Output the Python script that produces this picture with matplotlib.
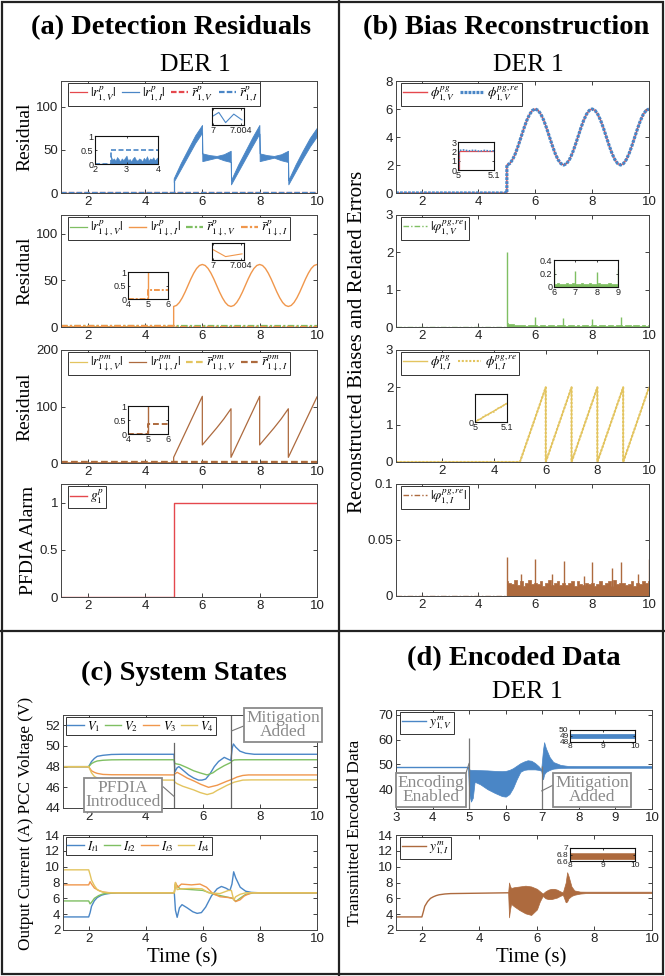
import numpy as np
import matplotlib
matplotlib.use('Agg')
import matplotlib.pyplot as plt
from matplotlib.lines import Line2D
from matplotlib.patches import Rectangle

W, H = 665, 976
plt.rcParams['font.family'] = ['Liberation Sans', 'DejaVu Sans']
plt.rcParams['mathtext.fontset'] = 'stix'

BLUE = '#4a86c6'; RED = '#e5484d'; GREEN = '#7fbf62'; ORANGE = '#f0974c'
YELLOW = '#e3c45f'; BROWN = '#ad6a3e'; GRAY = '#8a8a8a'

# ---------------- data: panel (a) ----------------
a1_band_t = [5.0, 5.25, 5.5, 5.75, 5.99, 6.0, 6.25, 6.5, 6.75, 6.99, 7.0, 7.25, 7.5, 7.75, 7.99,
             8.0, 8.25, 8.5, 8.75, 8.99, 9.0, 9.25, 9.5, 9.75, 10.0]
a1_band_hi = [17, 35, 51, 67, 79, 46, 44, 43, 45, 49, 15, 33, 49, 65, 79, 46, 44, 43, 45, 49, 15, 33, 49, 64, 76]
a1_band_lo = [13, 28, 43, 58, 70, 37, 39, 41, 38, 36, 10, 25, 40, 55, 69, 37, 39, 41, 38, 36, 10, 25, 40, 54, 66]
a1_pre_level = 0.3
a1_thr = 0.5
a1_in_noise_t = [2.5, 2.55, 2.6, 2.65, 2.7, 2.75, 2.8, 2.85, 2.9, 2.95, 3.0, 3.05, 3.1, 3.15, 3.2, 3.25,
                 3.3, 3.35, 3.4, 3.45, 3.5, 3.55, 3.6, 3.65, 3.7, 3.75, 3.8, 3.85, 3.9, 3.95, 4.0]
a1_in_noise = [0.3, 0.15, 0.2, 0.12, 0.25, 0.18, 0.1, 0.2, 0.14, 0.22, 0.3, 0.12, 0.18, 0.1, 0.2, 0.26,
               0.15, 0.12, 0.2, 0.17, 0.1, 0.22, 0.15, 0.28, 0.12, 0.2, 0.16, 0.24, 0.13, 0.2, 0.25]
a1_zoom_t = [7.0, 7.0008, 7.0018, 7.003, 7.0042]
a1_zoom_y = [0.54, 0.74, 0.14, 0.64, 0.3]

a2_t = [5.0, 5.1, 5.2, 5.3, 5.4, 5.5, 5.6, 5.7, 5.8, 5.9, 6.0, 6.1, 6.2, 6.3, 6.4, 6.5, 6.6, 6.7, 6.8, 6.9,
        7.0, 7.1, 7.2, 7.3, 7.4, 7.5, 7.6, 7.7, 7.8, 7.9, 8.0, 8.1, 8.2, 8.3, 8.4, 8.5, 8.6, 8.7, 8.8, 8.9,
        9.0, 9.1, 9.2, 9.3, 9.4, 9.5, 9.6, 9.7, 9.8, 9.9, 10.0]
a2_y = [22.0, 23.1, 26.3, 31.3, 37.5, 44.5, 51.5, 57.7, 62.7, 65.9, 67.0,
        65.9, 62.7, 57.7, 51.5, 44.5, 37.5, 31.3, 26.3, 23.1, 22.0,
        23.1, 26.3, 31.3, 37.5, 44.5, 51.5, 57.7, 62.7, 65.9, 67.0,
        65.9, 62.7, 57.7, 51.5, 44.5, 37.5, 31.3, 26.3, 23.1, 22.0,
        23.1, 26.3, 31.3, 37.5, 44.5, 51.5, 57.7, 62.7, 65.9, 67.0]
a2_zoom_t = [7.0, 7.0018, 7.0042]
a2_zoom_y = [0.6, 0.2, 0.36]
a2_thr_after = 0.35

a3_t = [5.0, 5.0, 6.0, 6.0, 6.25, 6.5, 6.75, 7.0, 7.0, 8.0, 8.0, 8.25, 8.5, 8.75, 9.0, 9.0, 10.0]
a3_y = [0.3, 10, 118, 32, 47, 62, 78, 96, 10, 118, 32, 47, 62, 78, 96, 10, 117]

a4_t = [1.07, 5.0, 5.0, 10.0]
a4_y = [0, 0, 1, 1]

# ---------------- data: panel (b) ----------------
b1_t = a2_t
b1_y = [2.00, 2.10, 2.38, 2.82, 3.38, 4.00, 4.62, 5.18, 5.62, 5.90, 6.00,
        5.90, 5.62, 5.18, 4.62, 4.00, 3.38, 2.82, 2.38, 2.10, 2.00,
        2.10, 2.38, 2.82, 3.38, 4.00, 4.62, 5.18, 5.62, 5.90, 6.00,
        5.90, 5.62, 5.18, 4.62, 4.00, 3.38, 2.82, 2.38, 2.10, 2.00,
        2.10, 2.38, 2.82, 3.38, 4.00, 4.62, 5.18, 5.62, 5.90, 6.00]
b1_in_t = [5.0, 5.002, 5.002, 5.1]
b1_in_y = [0, 0, 2.0, 2.0]
b1_in_re_t = [5.0, 5.002, 5.003, 5.015, 5.03, 5.045, 5.06, 5.075, 5.09, 5.1]
b1_in_re_y = [0, 0, 2.1, 2.15, 2.05, 2.12, 2.0, 2.1, 2.02, 2.06]

b2_noise_t = a2_t
b2_noise = [0.12, 0.08, 0.07, 0.06, 0.05, 0.06, 0.05, 0.04, 0.06, 0.05, 0.05,
            0.04, 0.06, 0.05, 0.04, 0.05, 0.06, 0.04, 0.05, 0.06, 0.05,
            0.04, 0.05, 0.06, 0.04, 0.05, 0.04, 0.06, 0.05, 0.04, 0.05,
            0.06, 0.04, 0.05, 0.05, 0.04, 0.06, 0.05, 0.04, 0.05, 0.05,
            0.04, 0.06, 0.05, 0.04, 0.05, 0.06, 0.04, 0.05, 0.04, 0.05]
b2_spike_t = [5.0, 6.0, 6.97, 8.0, 9.0]
b2_spike_h = [2.0, 0.27, 0.23, 0.22, 0.26]

b3_t = [0.2, 5.0, 6.0, 6.0, 7.0, 7.0, 8.0, 8.0, 9.0, 9.0, 10.0]
b3_y = [0, 0, 2, 0, 2, 0, 2, 0, 2, 0, 2]
b3_in_t = [5.0, 5.01, 5.02, 5.03, 5.04, 5.05, 5.06, 5.07, 5.08, 5.09, 5.1]
b3_in_y = [0.0, 0.02, 0.04, 0.06, 0.08, 0.10, 0.12, 0.14, 0.16, 0.18, 0.20]
b3_in_re = [0.0, 0.025, 0.035, 0.07, 0.075, 0.1, 0.11, 0.145, 0.155, 0.18, 0.2]

b4_noise_t = a2_t
b4_noise = [0.013, 0.012, 0.011, 0.014, 0.010, 0.013, 0.009, 0.012, 0.014, 0.011, 0.012,
            0.011, 0.013, 0.009, 0.012, 0.014, 0.010, 0.012, 0.013, 0.010, 0.012,
            0.010, 0.012, 0.013, 0.009, 0.013, 0.011, 0.010, 0.012, 0.011, 0.012,
            0.009, 0.011, 0.013, 0.010, 0.012, 0.013, 0.009, 0.014, 0.011, 0.012,
            0.012, 0.010, 0.011, 0.013, 0.009, 0.012, 0.011, 0.013, 0.012, 0.013]
b4_spike_t = [5.0, 5.5, 6.0, 6.6, 7.0, 7.7, 8.0, 8.7, 9.0, 9.6, 10.0]
b4_spike_h = [0.035, 0.02, 0.033, 0.02, 0.031, 0.018, 0.030, 0.025, 0.030, 0.02, 0.033]

# ---------------- data: panel (c) ----------------
V1_t = [1.1, 2.0, 2.1, 2.2, 2.3, 2.5, 2.8, 3.2, 4.99, 5.02, 5.1, 5.16, 5.33, 5.5, 5.68, 5.85, 5.97, 6.1,
        6.25, 6.4, 6.55, 6.75, 6.9, 6.98, 7.03, 7.07, 7.15, 7.3, 7.5, 7.8, 10.0]
V1_y = [48.0, 48.0, 48.5, 48.8, 49.0, 49.1, 49.18, 49.2, 49.2, 47.5, 47.9, 48.0, 47.6, 47.2, 46.9, 46.7,
        46.7, 46.8, 47.3, 48.0, 48.5, 48.9, 48.7, 48.6, 49.8, 50.2, 49.9, 49.5, 49.3, 49.2, 49.2]
V2_t = [1.1, 2.0, 2.1, 2.2, 2.3, 2.5, 2.8, 3.2, 4.99, 5.02, 5.2, 5.45, 5.68, 5.9, 6.15, 6.35, 6.5, 6.75,
        6.98, 7.02, 7.1, 7.3, 10.0]
V2_y = [48.0, 48.0, 48.3, 48.45, 48.55, 48.62, 48.66, 48.67, 48.67, 48.3, 48.2, 47.9, 47.6, 47.4, 47.2,
        47.4, 47.7, 48.1, 48.4, 48.55, 48.65, 48.67, 48.67]
V3_t = [1.1, 2.0, 2.1, 2.2, 2.3, 2.5, 2.8, 4.99, 5.02, 5.1, 5.2, 5.45, 5.7, 5.92, 6.2, 6.5, 6.85, 7.0,
        7.2, 7.4, 7.6, 10.0]
V3_y = [48.0, 48.0, 47.6, 47.45, 47.35, 47.25, 47.22, 47.2, 47.3, 47.45, 47.3, 46.9, 46.6, 46.3, 46.0,
        46.2, 46.6, 46.75, 47.0, 47.15, 47.2, 47.2]
V4_t = [1.1, 2.0, 2.1, 2.2, 2.3, 2.5, 2.8, 4.99, 5.02, 5.1, 5.3, 5.68, 5.9, 6.15, 6.35, 6.5, 6.85, 7.1,
        7.4, 7.7, 10.0]
V4_y = [48.0, 48.0, 47.4, 47.05, 46.9, 46.75, 46.72, 46.7, 46.5, 46.35, 46.1, 45.75, 45.5, 45.3, 45.45,
        45.7, 46.2, 46.5, 46.7, 46.72, 46.72]

It1_t = [1.1, 2.0, 2.05, 2.1, 2.2, 2.3, 2.45, 2.6, 2.8, 3.0, 5.0, 5.04, 5.1, 5.18, 5.27, 5.45, 5.65, 5.8,
         5.95, 6.1, 6.3, 6.5, 6.65, 6.8, 6.95, 7.02, 7.08, 7.15, 7.31, 7.5, 7.7, 8.0, 10.0]
It1_y = [3.65, 3.65, 4.2, 5.0, 5.7, 6.1, 6.4, 6.55, 6.65, 6.7, 6.7, 4.5, 3.6, 4.8, 5.2, 4.8, 4.3, 4.1,
         4.2, 4.9, 6.3, 7.2, 7.5, 7.3, 7.0, 7.8, 9.35, 8.6, 7.4, 6.9, 6.75, 6.7, 6.7]
It2_t = [1.1, 2.0, 2.05, 2.1, 2.2, 2.35, 2.5, 2.7, 3.0, 5.0, 5.04, 5.2, 5.6, 6.0, 6.4, 6.8, 7.05, 7.15,
         7.3, 7.5, 7.8, 10.0]
It2_y = [5.67, 5.67, 5.3, 5.5, 6.0, 6.35, 6.55, 6.65, 6.7, 6.7, 7.8, 7.2, 7.1, 7.0, 6.5, 6.2, 6.0, 5.6,
         6.0, 6.5, 6.7, 6.7]
It3_t = [1.1, 2.0, 2.05, 2.1, 2.2, 2.35, 2.5, 2.7, 3.0, 5.0, 5.04, 5.12, 5.25, 5.6, 5.9, 6.13, 6.35, 6.6,
         6.9, 7.05, 7.15, 7.3, 7.45, 7.7, 10.0]
It3_y = [7.7, 7.7, 8.1, 7.8, 7.3, 7.0, 6.8, 6.72, 6.7, 6.7, 8.0, 7.4, 7.8, 7.7, 7.8, 7.4, 6.6, 6.2, 6.1,
         6.0, 5.6, 5.8, 6.3, 6.7, 6.7]
It4_t = [1.1, 2.0, 2.05, 2.1, 2.2, 2.3, 2.4, 2.55, 2.7, 3.0, 5.0, 5.04, 5.1, 5.25, 5.6, 5.97, 6.2, 6.6,
         6.9, 7.0, 7.08, 7.15, 7.3, 7.5, 10.0]
It4_y = [9.6, 9.6, 9.0, 8.3, 7.6, 7.1, 6.9, 6.75, 6.7, 6.7, 6.7, 8.0, 7.1, 7.2, 7.25, 7.2, 6.7, 6.6, 7.0,
         7.0, 5.8, 6.2, 6.5, 6.7, 6.7]

# ---------------- data: panel (d) ----------------
d1_pre_t = [3.0, 4.97]
d1_pre_y = [49.05, 49.05]
d1_band_t = [4.97, 5.0, 5.05, 5.1, 5.15, 5.3, 5.5, 5.7, 5.9, 6.0, 6.1, 6.2, 6.3, 6.4, 6.5, 6.6, 6.7, 6.8,
             6.9, 6.97, 7.02, 7.05, 7.1, 7.2, 7.3, 7.5, 7.7, 8.0, 10.0]
d1_band_hi = [49.2, 48.0, 47.8, 47.8, 47.8, 47.7, 47.6, 47.4, 47.3, 47.4, 47.8, 48.5, 49.5, 50.5, 51.2,
              51.7, 51.5, 50.6, 49.3, 48.0, 56.0, 59.0, 56.5, 53.0, 51.0, 49.8, 49.4, 49.35, 49.35]
d1_band_lo = [48.8, 38.0, 35.0, 36.5, 43.0, 42.0, 40.0, 38.5, 37.2, 37.0, 38.0, 40.5, 44.0, 47.0, 47.8,
              48.0, 48.0, 48.0, 47.8, 47.5, 44.0, 46.0, 47.0, 47.8, 48.3, 48.6, 48.65, 48.65, 48.65]
d1_mark_t = [5.0, 6.98]
d1_mark_top = [60.6, 49.5]

d2_pre_t = [1.1, 2.0, 2.05, 2.1, 2.2, 2.3, 2.4, 2.5, 2.6, 2.8, 3.0, 5.0]
d2_pre_y = [3.65, 3.65, 4.3, 5.0, 5.6, 6.0, 6.2, 6.35, 6.45, 6.55, 6.6, 6.7]
d2_band_t = [5.0, 5.03, 5.06, 5.1, 5.2, 5.4, 5.6, 5.8, 6.0, 6.1, 6.2, 6.3, 6.4, 6.5, 6.6, 6.7, 6.8, 6.9,
             7.0, 7.05, 7.1, 7.2, 7.3, 7.5, 7.7, 10.0]
d2_band_hi = [6.8, 8.0, 7.6, 7.3, 7.4, 7.5, 7.6, 7.5, 7.2, 6.9, 6.6, 6.9, 7.1, 7.2, 7.2, 7.1, 6.9, 6.75,
              8.0, 9.3, 8.8, 7.5, 7.0, 6.85, 6.84, 6.84]
d2_band_lo = [6.6, 3.6, 4.5, 5.3, 5.0, 4.5, 4.1, 3.9, 4.6, 5.6, 6.3, 6.0, 5.9, 5.9, 6.0, 6.1, 6.3, 6.45,
              5.5, 5.6, 6.0, 6.3, 6.45, 6.6, 6.66, 6.66]

# ---------------- helpers ----------------
fig = plt.figure(figsize=(W / 100, H / 100), dpi=100)
SERIF = ['Liberation Serif', 'DejaVu Serif']
TFS = 9.5   # tick label size
IFS = 6.5   # inset tick label size
LFS = 9.5   # legend font size
TITLE = 20.5


def prect(x0, y0, x1, y1):
    return [x0 / W, 1 - y1 / H, (x1 - x0) / W, (y1 - y0) / H]


def ftxt(x, y, s, **kw):
    return fig.text(x / W, 1 - y / H, s, **kw)


def mkax(r, xlim, ylim, xticks, xtl, yticks, ytl, fs=TFS, inset=False):
    ax = fig.add_axes(prect(*r))
    ax.set_xlim(*xlim)
    ax.set_ylim(*ylim)
    ax.set_xticks(xticks)
    ax.set_xticklabels(xtl)
    ax.set_yticks(yticks)
    ax.set_yticklabels(ytl)
    ax.tick_params(direction='in', length=1.5 if inset else 3, width=0.6, top=True, right=True,
                   labelsize=fs, pad=1 if inset else 2, colors='#222')
    for s in ax.spines.values():
        s.set_linewidth(0.8 if inset else 0.7)
        s.set_color('#111' if inset else '#444')
    ax.set_zorder(5 if inset else 1)
    return ax


def leg(ax, x, y, ncol=4, fs=LFS, hl=1.3, cs=0.4):
    L = ax.legend(loc='upper left', bbox_to_anchor=(x, y), ncol=ncol, fontsize=fs, frameon=True,
                  fancybox=False, framealpha=1, edgecolor='#333', borderpad=0.15, handlelength=hl,
                  handletextpad=0.25, columnspacing=cs, borderaxespad=0.0, labelspacing=0.2)
    L.get_frame().set_linewidth(0.7)
    return L


XT = [2, 4, 6, 8, 10]
XTL = ['2', '4', '6', '8', '10']

# ---------------- frame ----------------
fig.add_artist(Rectangle((2 / W, 2 / H), (W - 4) / W, (H - 4) / H, transform=fig.transFigure,
                         fill=False, lw=1.6, ec='#222'))
fig.add_artist(Line2D([338.5 / W, 338.5 / W], [0, 1], transform=fig.transFigure, lw=1.6, color='#222'))
fig.add_artist(Line2D([0, 1], [1 - 631 / H, 1 - 631 / H], transform=fig.transFigure, lw=1.6, color='#222'))

# ---------------- panel (a) ----------------
ftxt(171, 28, '(a) Detection Residuals', ha='center', va='center', fontsize=TITLE, fontweight='bold', family=SERIF)
ftxt(195, 65, 'DER 1', ha='center', va='center', fontsize=18.5, family=SERIF)

ax = mkax((61, 81, 317, 193), (1.07, 10), (0, 130), XT, XTL, [0, 50, 100], ['0', '50', '100'])
ax.plot([1.07, 10], [0.2, 0.2], color=RED, lw=0.9, label=r'$|r^{p}_{1,V}|$')
ax.plot([1.07, 5.0, 5.0], [a1_pre_level, a1_pre_level, a1_band_lo[0]], color=BLUE, lw=0.9, label=r'$|r^{p}_{1,I}|$')
ax.fill_between(a1_band_t, a1_band_lo, a1_band_hi, color=BLUE, lw=0.6, ec=BLUE)
ax.plot([1.07, 10], [a1_thr, a1_thr], color=RED, lw=1.6, ls=(0, (2.5, 1)), label=r'$\bar{r}^{p}_{1,V}$')
ax.plot([1.07, 10], [a1_thr, a1_thr], color=BLUE, lw=1.6, ls=(0, (2.5, 1)), label=r'$\bar{r}^{p}_{1,I}$')
leg(ax, 0.027, 0.985)
ax.set_ylabel('Residual', family=SERIF, fontsize=14, labelpad=2)

ai = mkax((95, 136, 158, 164), (2, 4), (0, 1), [2, 3, 4], ['2', '3', '4'], [0, 0.5, 1], ['0', '0.5', '1'], fs=IFS, inset=True)
ai.plot([2, 2.5], [0.01, 0.01], color=BLUE, lw=0.9)
ai.fill_between(a1_in_noise_t, 0, a1_in_noise, color=BLUE, lw=0.4, ec=BLUE)
ai.plot([2, 2.5, 2.5, 4], [0.0, 0.0, a1_thr, a1_thr], color=BLUE, lw=1.2, ls=(0, (3, 1.5)))
ai = mkax((212, 108, 244, 125), (6.9998, 7.0045), (0, 1), [7.0, 7.004], ['7', '7.004'], [], [], fs=IFS, inset=True)
ai.plot(a1_zoom_t, a1_zoom_y, color=BLUE, lw=0.8)

ax = mkax((61, 215, 317, 327), (1.07, 10), (0, 120), XT, XTL, [0, 50, 100], ['0', '50', '100'])
ax.plot([1.07, 10], [0.3, 0.3], color=GREEN, lw=0.9, label=r'$|r^{p}_{1\downarrow,V}|$')
ax.plot([1.07, 5.0] + a2_t, [0.3, 0.3] + a2_y, color=ORANGE, lw=1.0, label=r'$|r^{p}_{1\downarrow,I}|$')
ax.plot([1.07, 10], [0.6, 0.6], color=GREEN, lw=1.6, ls=(0, (3, 1, 1, 1)), label=r'$\bar{r}^{p}_{1\downarrow,V}$')
ax.plot([1.07, 5.0, 5.0, 10], [0.6, 0.6, a2_thr_after, a2_thr_after], color=ORANGE, lw=1.6, ls=(0, (3, 1, 1, 1)),
        label=r'$\bar{r}^{p}_{1\downarrow,I}$')
leg(ax, 0.027, 0.985)
ax.set_ylabel('Residual', family=SERIF, fontsize=14, labelpad=2)

ai = mkax((128, 272, 168, 299), (4, 6), (0, 1), [4, 5, 6], ['4', '5', '6'], [0, 0.5, 1], ['0', '0.5', '1'], fs=IFS, inset=True)
ai.plot([4, 5.0, 5.0, 6], [0.01, 0.01, a2_y[0], a2_y[0]], color=ORANGE, lw=1.0)
ai.plot([4, 5.0, 5.0, 6], [0.0, 0.0, a2_thr_after, a2_thr_after], color=ORANGE, lw=1.4, ls=(0, (3, 1, 1, 1)))
ai = mkax((212, 243, 244, 260), (6.9998, 7.0045), (0, 1), [7.0, 7.004], ['7', '7.004'], [], [], fs=IFS, inset=True)
ai.plot(a2_zoom_t, a2_zoom_y, color=ORANGE, lw=0.8)

ax = mkax((61, 350, 317, 463), (1.07, 10), (0, 200), XT, XTL, [0, 100, 200], ['0', '100', '200'])
ax.plot([1.07, 10], [0.5, 0.5], color=YELLOW, lw=0.9, label=r'$|r^{pm}_{1\downarrow,V}|$')
ax.plot([1.07] + a3_t, [0.3] + a3_y, color=BROWN, lw=0.9, label=r'$|r^{pm}_{1\downarrow,I}|$')
ax.plot([1.07, 10], [1.0, 1.0], color=YELLOW, lw=1.6, ls=(0, (3, 1.5)), label=r'$\bar{r}^{pm}_{1\downarrow,V}$')
ax.plot([1.07, 10], [1.0, 1.0], color=BROWN, lw=1.6, ls=(0, (3, 1.5)), label=r'$\bar{r}^{pm}_{1\downarrow,I}$')
leg(ax, 0.027, 0.985)
ax.set_ylabel('Residual', family=SERIF, fontsize=14, labelpad=2)

ai = mkax((128, 406, 168, 434), (4, 6), (0, 1), [4, 5, 6], ['4', '5', '6'], [0, 0.5, 1], ['0', '0.5', '1'], fs=IFS, inset=True)
ai.plot([4, 5.0, 5.0, 6], [0.01, 0.01, a3_y[1], a3_y[1]], color=BROWN, lw=1.0)
ai.plot([4, 5.0, 5.0, 6], [0.0, 0.0, a2_thr_after, a2_thr_after], color=BROWN, lw=1.4, ls=(0, (3, 1.5)))

ax = mkax((61, 484, 317, 597), (1.07, 10), (0, 1.2), XT, XTL, [0, 0.5, 1], ['0', '0.5', '1'])
ax.plot(a4_t, a4_y, color=RED, lw=1.0, label=r'$g^{p}_{1}$')
leg(ax, 0.027, 0.985, ncol=1)
ax.set_ylabel('PFDIA Alarm', family=SERIF, fontsize=14, labelpad=2)

# ---------------- panel (b) ----------------
ftxt(506, 28, '(b) Bias Reconstruction', ha='center', va='center', fontsize=TITLE, fontweight='bold', family=SERIF)
ftxt(528, 65, 'DER 1', ha='center', va='center', fontsize=18.5, family=SERIF)
ftxt(357, 342, 'Reconstructed Biases and Related Errors', ha='center', va='center', rotation=90,
     fontsize=15, family=SERIF)

ax = mkax((396, 81, 649, 193), (1.1, 10), (0, 8), XT, XTL, [0, 2, 4, 6, 8], ['0', '2', '4', '6', '8'])
ax.plot([1.1, 5.0] + b1_t, [0, 0] + b1_y, color=RED, lw=1.0, label=r'$\phi^{pg}_{1,V}$')
ax.plot([1.1, 5.0] + b1_t, [0, 0] + b1_y, color=BLUE, lw=2.3, ls=(0, (0.9, 0.35)), label=r'$\phi^{pg,re}_{1,V}$')
leg(ax, 0.02, 0.985, ncol=2, hl=1.8)
ai = mkax((458, 142, 494, 170), (5, 5.1), (0, 3), [5, 5.1], ['5', '5.1'], [0, 1, 2, 3], ['0', '1', '2', '3'], fs=IFS, inset=True)
ai.plot(b1_in_t, b1_in_y, color=RED, lw=0.9)
ai.plot(b1_in_re_t, b1_in_re_y, color=BLUE, lw=1.2, ls=(0, (1, 0.8)))

ax = mkax((396, 215, 649, 327), (1.1, 10), (0, 3), XT, XTL, [0, 1, 2, 3], ['0', '1', '2', '3'])
ax.plot([1.1, 10], [0.005, 0.005], color=GREEN, lw=1.0, ls=(0, (4, 1.5, 1, 1.5)), label=r'$|\varphi^{pg,re}_{1,V}|$')
ax.fill_between(b2_noise_t, 0, b2_noise, step='mid', color=GREEN, lw=0.5, ec=GREEN)
ax.vlines(b2_spike_t, 0, b2_spike_h, color=GREEN, lw=1.0)
leg(ax, 0.02, 0.985, ncol=1, hl=1.8)
ai = mkax((554, 260, 618, 287), (6, 9), (0, 0.4), [6, 7, 8, 9], ['6', '7', '8', '9'], [0, 0.2, 0.4], ['0', '0.2', '0.4'], fs=IFS, inset=True)
ai.fill_between(b2_noise_t, 0, b2_noise, step='mid', color=GREEN, lw=0.5, ec=GREEN)
ai.vlines(b2_spike_t, 0, b2_spike_h, color=GREEN, lw=1.0)

ax = mkax((396, 350, 649, 462), (0.2, 10), (0, 3), XT, XTL, [0, 1, 2, 3], ['0', '1', '2', '3'])
ax.plot(b3_t, b3_y, color=YELLOW, lw=1.0, label=r'$\phi^{pg}_{1,I}$')
ax.plot(b3_t, b3_y, color=YELLOW, lw=1.5, ls=(0, (1, 0.8)), label=r'$\phi^{pg,re}_{1,I}$')
leg(ax, 0.02, 0.985, ncol=2, hl=1.8)
ai = mkax((475, 394, 507, 422), (5, 5.1), (0, 0.3), [5, 5.1], ['5', '5.1'], [0], ['0'], fs=IFS, inset=True)
ai.plot(b3_in_t, b3_in_y, color=YELLOW, lw=1.0)
ai.plot(b3_in_t, b3_in_re, color=YELLOW, lw=1.2, ls=(0, (1, 0.8)))

ax = mkax((396, 484, 649, 596), (1.1, 10), (0, 0.1), XT, XTL, [0, 0.05, 0.1], ['0', '0.05', '0.1'])
ax.plot([1.1, 10], [0.0003, 0.0003], color=BROWN, lw=1.0, ls=(0, (4, 1.5, 1, 1.5)), label=r'$|\varphi^{pg,re}_{1,I}|$')
ax.fill_between(b4_noise_t, 0, b4_noise, step='mid', color=BROWN, lw=0.5, ec=BROWN)
ax.vlines(b4_spike_t, 0, b4_spike_h, color=BROWN, lw=1.0)
leg(ax, 0.02, 0.985, ncol=1, hl=1.8)

# ---------------- panel (c) ----------------
ftxt(184, 673, '(c) System States', ha='center', va='center', fontsize=TITLE, fontweight='bold', family=SERIF)
ftxt(26, 823, 'Output Current (A) PCC Voltage (V)', ha='center', va='center', rotation=90,
     fontsize=12.3, family=SERIF)
ftxt(182, 958, 'Time (s)', ha='center', va='center', fontsize=15, family=SERIF)

ax = mkax((63, 715, 317, 808), (1.1, 10), (44, 53), XT, XTL, [44, 46, 48, 50, 52], ['44', '46', '48', '50', '52'])
ax.plot(V1_t, V1_y, color=BLUE, lw=1.0, label=r'$V_1$')
ax.plot(V2_t, V2_y, color=GREEN, lw=1.0, label=r'$V_2$')
ax.plot(V3_t, V3_y, color=ORANGE, lw=1.0, label=r'$V_3$')
ax.plot(V4_t, V4_y, color=YELLOW, lw=1.0, label=r'$V_4$')
ax.plot([5.0, 5.0], [44, 50.25], color='#666', lw=0.9)
ax.plot([7.0, 7.0], [44, 53], color='#666', lw=0.9)
leg(ax, 0.01, 0.98, fs=9)
bb = dict(boxstyle='square,pad=0.1', fc='white', ec=GRAY, lw=1.3)
ax.annotate('PFDIA\nIntroduced', xy=(5.0, 45.1), xytext=(123 / W, 1 - 795 / H), textcoords='figure fraction',
            ha='center', va='center', fontsize=12.5, family=SERIF, color=GRAY, linespacing=0.8, bbox=bb,
            arrowprops=dict(arrowstyle='-', color='#777', lw=0.8, relpos=(1.0, 0.85), shrinkA=0, shrinkB=0),
            annotation_clip=False, zorder=10)
ax.annotate('Mitigation\nAdded', xy=(7.0, 51.45), xytext=(283 / W, 1 - 725 / H), textcoords='figure fraction',
            ha='center', va='center', fontsize=12.5, family=SERIF, color=GRAY, linespacing=0.8, bbox=bb,
            arrowprops=dict(arrowstyle='-', color='#777', lw=0.8, relpos=(0.0, 0.5), shrinkA=0, shrinkB=0),
            annotation_clip=False, zorder=10)

ax = mkax((63, 835, 317, 930), (1.1, 10), (2, 14), XT, XTL, [2, 4, 6, 8, 10, 12, 14],
          ['2', '4', '6', '8', '10', '12', '14'])
ax.plot(It1_t, It1_y, color=BLUE, lw=1.0, label=r'$I_{t1}$')
ax.plot(It2_t, It2_y, color=GREEN, lw=1.0, label=r'$I_{t2}$')
ax.plot(It3_t, It3_y, color=ORANGE, lw=1.0, label=r'$I_{t3}$')
ax.plot(It4_t, It4_y, color=YELLOW, lw=1.0, label=r'$I_{t4}$')
leg(ax, 0.01, 0.98, fs=9)

# ---------------- panel (d) ----------------
ftxt(514, 659, '(d) Encoded Data', ha='center', va='center', fontsize=TITLE, fontweight='bold', family=SERIF)
ftxt(527, 692, 'DER 1', ha='center', va='center', fontsize=18.5, family=SERIF)
ftxt(355, 833, 'Transmitted Encoded Data', ha='center', va='center', rotation=90, fontsize=12.5, family=SERIF)
ftxt(531, 958, 'Time (s)', ha='center', va='center', fontsize=15, family=SERIF)

ax = mkax((396, 710, 652, 809), (3, 10), (32, 72), [3, 4, 5, 6, 7, 8, 9, 10],
          ['3', '4', '5', '6', '7', '8', '9', '10'], [40, 50, 60, 70], ['40', '50', '60', '70'])
ax.plot(d1_pre_t, d1_pre_y, color=BLUE, lw=1.0, label=r'$y^{m}_{1,V}$')
ax.fill_between(d1_band_t, d1_band_lo, d1_band_hi, color=BLUE, lw=0.5, ec=BLUE)
ax.vlines(d1_mark_t, 32, d1_mark_top, color='#777', lw=0.9)
leg(ax, 0.015, 0.975, ncol=1, hl=1.8)
ax.annotate('Encoding\nEnabled', xy=(5.0, 50.5), xytext=(431 / W, 1 - 790 / H), textcoords='figure fraction',
            ha='center', va='center', fontsize=12.5, family=SERIF, color=GRAY, linespacing=0.8, bbox=bb,
            arrowprops=dict(arrowstyle='-', color='#777', lw=0.8, relpos=(1.0, 0.9), shrinkA=0, shrinkB=0),
            annotation_clip=False, zorder=10)
ax.annotate('Mitigation\nAdded', xy=(6.98, 39.3), xytext=(592 / W, 1 - 790 / H), textcoords='figure fraction',
            ha='center', va='center', fontsize=12.5, family=SERIF, color=GRAY, linespacing=0.8, bbox=bb,
            arrowprops=dict(arrowstyle='-', color='#777', lw=0.8, relpos=(0.0, 0.7), shrinkA=0, shrinkB=0),
            annotation_clip=False, zorder=10)
ai = mkax((570, 730, 635, 742), (8, 10), (48, 50), [8, 9, 10], ['8', '9', '10'], [48, 49, 50], ['48', '49', '50'], fs=6, inset=True)
ai.fill_between(d1_band_t, d1_band_lo, d1_band_hi, color=BLUE, lw=0.5, ec=BLUE)

ax = mkax((396, 835, 652, 930), (1.1, 10), (2, 14), XT, XTL, [2, 4, 6, 8, 10, 12, 14],
          ['2', '4', '6', '8', '10', '12', '14'])
ax.plot(d2_pre_t, d2_pre_y, color=BROWN, lw=1.0, label=r'$y^{m}_{1,I}$')
ax.fill_between(d2_band_t, d2_band_lo, d2_band_hi, color=BROWN, lw=0.5, ec=BROWN)
leg(ax, 0.015, 0.975, ncol=1, hl=1.8)
ai = mkax((570, 848, 635, 861), (8, 10), (6.6, 7), [8, 9, 10], ['8', '9', '10'], [6.6, 6.8, 7], ['6.6', '6.8', '7'], fs=6, inset=True)
ai.fill_between(d2_band_t, d2_band_lo, d2_band_hi, color=BROWN, lw=0.5, ec=BROWN)

fig.savefig('out.png', dpi=100)
